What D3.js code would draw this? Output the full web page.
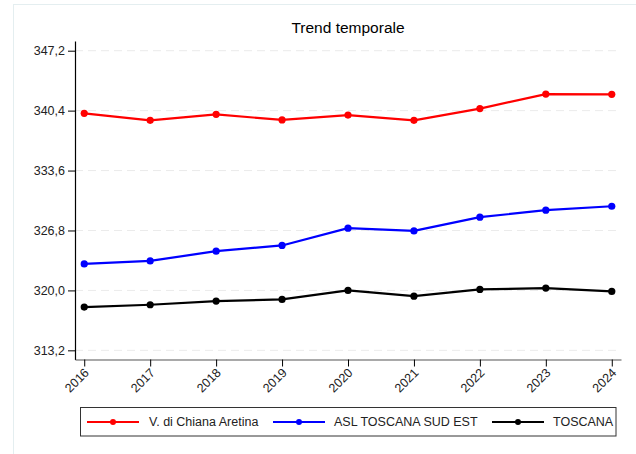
<!DOCTYPE html>
<html><head><meta charset="utf-8">
<script src="https://cdn.jsdelivr.net/npm/d3@7"></script>
<style>
html,body{margin:0;padding:0;background:#fff;}
svg{display:block;font-family:"Liberation Sans",Arial,sans-serif;}
</style></head>
<body>
<svg id="chart" width="636" height="454"></svg>
<script>
const years = ["2016","2017","2018","2019","2020","2021","2022","2023","2024"];
const seriesNames = ["V. di Chiana Aretina","ASL TOSCANA SUD EST","TOSCANA"];
const chianaValues = [340.09,339.30,339.98,339.34,339.90,339.30,340.63,342.28,342.25];
const aslValues = [323.01,323.35,324.45,325.10,327.06,326.75,328.31,329.10,329.55];
const toscanaValues = [318.11,318.37,318.79,318.98,320.00,319.35,320.11,320.26,319.89];
const yTicks = [313.2,320.0,326.8,333.6,340.4,347.2];
const colors = ["#ff0000","#0000ff","#000000"];
const title = "Trend temporale";

const series = [chianaValues, aslValues, toscanaValues].map((v,i)=>({name:seriesNames[i], color:colors[i], values:v}));

const svg = d3.select("#chart");
const m = {left:75, right:621, top:41, bottom:359.5};

// outer frame
svg.append("rect").attr("x",13.5).attr("y",4.5).attr("width",640).attr("height",470)
  .attr("fill","none").attr("stroke","#e4eef0").attr("stroke-width",1);

const x = d3.scalePoint().domain(years).range([m.left, m.right]).padding(0.14);
const y = d3.scaleLinear().domain([312.16, 348.3]).range([m.bottom, m.top]);

// grid
svg.append("g").selectAll("line").data(yTicks).join("line")
  .attr("x1",m.left).attr("x2",m.right)
  .attr("y1",d=>y(d)).attr("y2",d=>y(d))
  .attr("stroke","#ebebeb").attr("stroke-width",1).attr("stroke-dasharray","8,5");

// title
svg.append("text").attr("x",348).attr("y",33).attr("text-anchor","middle")
  .attr("font-size","15.5px").attr("fill","#000").text(title);

// y axis
const fmt = d => d.toFixed(1).replace(".",",");
const yAxis = svg.append("g").attr("transform",`translate(${m.left},0)`)
  .call(d3.axisLeft(y).tickValues(yTicks).tickFormat(fmt).tickSize(7).tickSizeOuter(0));
yAxis.select(".domain").attr("stroke","#000").attr("stroke-width",1.2);
yAxis.selectAll(".tick line").attr("stroke","#000");
yAxis.selectAll(".tick text").attr("font-size","12.5px").attr("fill","#222").attr("x",-10)
  .attr("font-family","Liberation Sans, Arial, sans-serif");

// x axis
const xAxis = svg.append("g").attr("transform",`translate(0,${m.bottom})`)
  .call(d3.axisBottom(x).tickSize(7).tickSizeOuter(0));
xAxis.select(".domain").attr("stroke","#555").attr("stroke-width",1.2);
xAxis.selectAll(".tick line").attr("stroke","#000");
xAxis.selectAll(".tick text").attr("font-size","12.5px").attr("fill","#222")
  .attr("font-family","Liberation Sans, Arial, sans-serif")
  .attr("text-anchor","end").attr("dy",null).attr("y",null)
  .attr("transform","translate(5,14) rotate(-45)");

// lines
const line = d3.line().x((d,i)=>x(years[i])).y(d=>y(d));
const g = svg.append("g");
series.forEach(s=>{
  g.append("path").attr("d",line(s.values)).attr("fill","none")
    .attr("stroke",s.color).attr("stroke-width",2.2).attr("stroke-linejoin","round");
  g.selectAll(null).data(s.values).join("circle")
    .attr("cx",(d,i)=>x(years[i])).attr("cy",d=>y(d)).attr("r",3.6).attr("fill",s.color);
});

// legend
const lg = svg.append("g");
lg.append("rect").attr("x",80.5).attr("y",407.5).attr("width",535.5).attr("height",28.5)
  .attr("fill","#fff").attr("stroke","#333").attr("stroke-width",1);
const legX = [{x1:87,x2:139,tx:149},{x1:273,x2:325,tx:334},{x1:492,x2:544,tx:553}];
series.forEach((s,i)=>{
  const p = legX[i], ly = 422;
  lg.append("line").attr("x1",p.x1).attr("x2",p.x2).attr("y1",ly).attr("y2",ly)
    .attr("stroke",s.color).attr("stroke-width",2);
  lg.append("circle").attr("cx",(p.x1+p.x2)/2).attr("cy",ly).attr("r",3).attr("fill",s.color);
  lg.append("text").attr("x",p.tx).attr("y",ly).attr("dy","0.35em")
    .attr("font-size","12.5px").attr("fill","#222").text(s.name);
});
</script>
</body></html>
